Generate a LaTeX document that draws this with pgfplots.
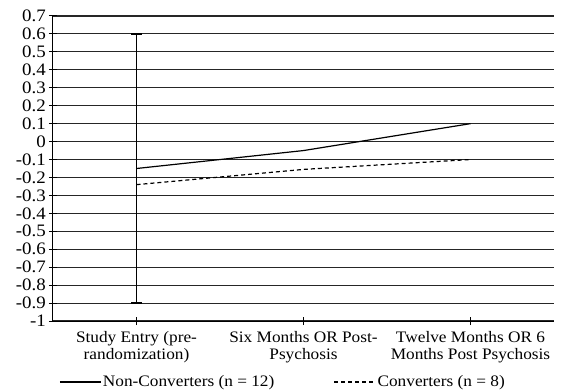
\documentclass[border=0pt]{standalone}
\usepackage{fontspec}
\setmainfont{Liberation Serif}[FakeStretch=1.08]
\usepackage{pgfplots}
\pgfplotsset{compat=1.18}
\newcommand\lf{\fontsize{16bp}{16.5bp}\selectfont}
\newcommand\tf{\fontsize{17.5bp}{17.5bp}\selectfont}
\begin{document}
\lf
\begin{tikzpicture}
\useasboundingbox (-53bp,-70bp) rectangle (509bp,321bp);
\begin{axis}[
  at={(0,0)}, anchor=south west,
  scale only axis, width=501bp, height=305bp,
  xmin=-0.5, xmax=2.5, ymin=-1, ymax=0.7,
  axis x line=bottom, axis y line=left,
  axis line style={-, line width=1bp, black},
  xtick={0,1,2},
  xticklabels={{Study Entry (pre-\\randomization)},{Six Months OR Post-\\Psychosis},{Twelve Months OR 6\\Months Post Psychosis}},
  xticklabel style={align=center, font=\lf, yshift=-1bp},
  x tick style={line width=1bp, black},
  tick align=center, major tick length=8bp,
  ytick={-1,-0.9,-0.8,-0.7,-0.6,-0.5,-0.4,-0.3,-0.2,-0.1,0,0.1,0.2,0.3,0.4,0.5,0.6,0.7},
  yticklabel={\tf\pgfmathprintnumber[assume math mode=true,fixed,precision=1]{\tick}},
  yticklabel style={font=\tf, xshift=-1bp, inner sep=2bp},
  y tick style={line width=1bp, black},
  ymajorgrids,
  major grid style={black!85, line width=1.1bp},
  legend columns=2,
  legend style={draw=none, fill=none, at={(0.012,-0.2)}, anchor=west,
    inner sep=0pt,
    nodes={inner sep=1.5bp, font=\lf},
    /tikz/every even column/.append style={column sep=58bp}},
  legend image code/.code={\draw[#1] (0bp,0bp) -- (41bp,0bp);},
]
\addplot[forget plot, draw=none, mark=none,
  error bars/.cd, y dir=both, y explicit, error mark=|,
  error bar style={line width=1.2bp, black},
  error mark options={mark size=5.5bp, line width=1.2bp, black}]
  coordinates {(0,-0.15) +- (0,0.75)};
\addplot[black, line width=1.2bp, mark=none] coordinates {(0,-0.15) (1,-0.05) (2,0.1)};
\addlegendentry{Non-Converters (n = 12)}
\addplot[black, line width=1.2bp, mark=none, dash pattern=on 4bp off 3bp] coordinates {(0,-0.24) (1,-0.155) (2,-0.1)};
\addlegendentry{Converters (n = 8)}
\end{axis}
\end{tikzpicture}
\end{document}
